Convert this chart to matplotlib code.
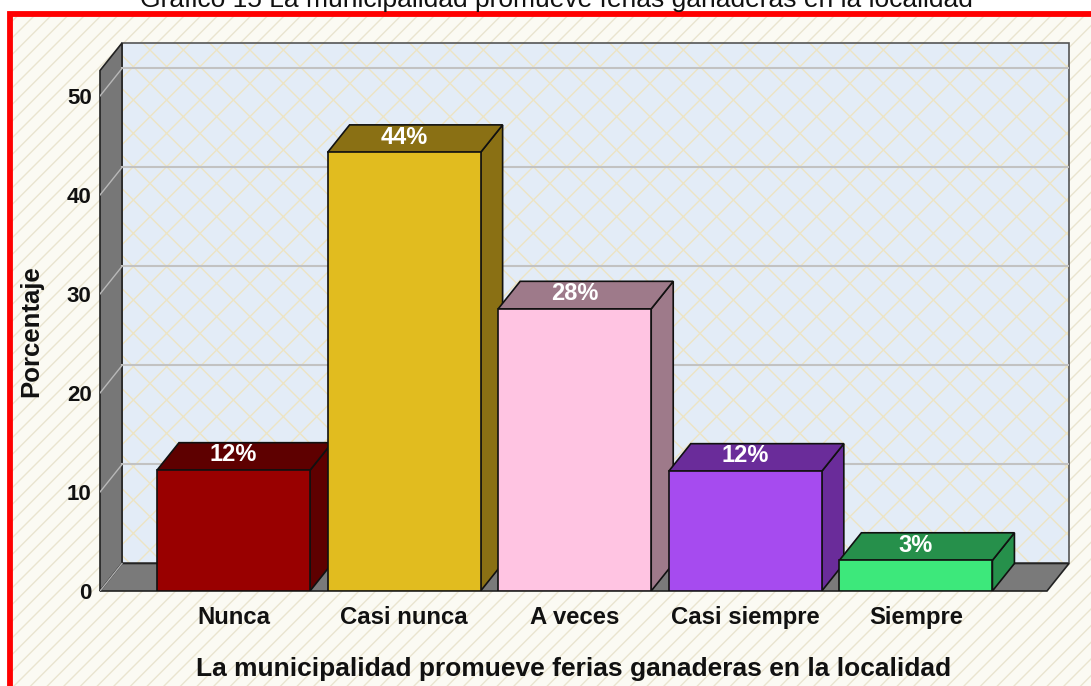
import numpy as np
import matplotlib
matplotlib.use("Agg")
import matplotlib.pyplot as plt
from matplotlib.patches import Rectangle, Polygon

plt.rcParams['font.family'] = ['Liberation Sans', 'DejaVu Sans']

# data
categorias = ["Nunca", "Casi nunca", "A veces", "Casi siempre", "Siempre"]
porcentajes = [12.2, 44.3, 28.5, 12.1, 3.1]
etiquetas = ["12%", "44%", "28%", "12%", "3%"]
yticks = [0, 10, 20, 30, 40, 50]
frente = ["#990000", "#E1BC1F", "#FFC4E2", "#A64BEF", "#3DE87B"]
oscuro = ["#5E0000", "#8A7014", "#9E7A8A", "#6A2C9A", "#26904B"]
titulo = "Gráfico 15 La municipalidad promueve ferias ganaderas en la localidad"

fig = plt.figure(figsize=(10.91, 6.86), dpi=100, facecolor="white")

# background with stripes and red frame
fondo = Rectangle((9.7/1091, -0.05), 2, 1.05 - 14/686, transform=fig.transFigure,
                  facecolor="#FBFAF3", edgecolor="#EAE4CF", hatch="//", lw=0, zorder=-2)
fig.add_artist(fondo)
marco = Rectangle((9.7/1091, -0.05), 2, 1.05 - 14/686, transform=fig.transFigure,
                  facecolor="none", edgecolor="#FF0000", lw=4.2, zorder=-1)
fig.add_artist(marco)
# title is cut by the top edge, as in the source image
fig.text(556/1091, 1 - 7/686, titulo, ha="center", va="baseline", fontsize=19, color="#111111")

ax = fig.add_axes([100/1091, 95/686, 969/1091, 548/686])
ax.patch.set_visible(False)
for s in ax.spines.values():
    s.set_visible(False)

x0, xmax = -0.7825, 4.8974
ymax = 55.35
dx, dy = 0.129, 2.78
w = 0.897
ax.set_xlim(x0, xmax)
ax.set_ylim(0, ymax)
x1 = xmax - dx

# back wall
pared = Rectangle((x0 + dx, dy), x1 - x0, ymax - dy, facecolor="#E3ECF7",
                  edgecolor="#EDE4C4", hatch="x", lw=0, zorder=1, clip_on=False)
ax.add_patch(pared)
ax.add_patch(Rectangle((x0 + dx, dy), x1 - x0, ymax - dy, facecolor="none",
                       edgecolor="#555555", lw=1.2, zorder=1.1, clip_on=False))
# left wall and floor
ax.add_patch(Polygon([(x0, 0), (x0 + dx, dy), (x0 + dx, ymax), (x0, ymax - dy)],
                     facecolor="#777777", edgecolor="#222222", lw=1.2, zorder=1.2, clip_on=False))
ax.add_patch(Polygon([(x0, 0), (x1, 0), (x1 + dx, dy), (x0 + dx, dy)],
                     facecolor="#7A7A7A", edgecolor="#222222", lw=1.2, zorder=1.2, clip_on=False))
ax.plot([x0, x0 + dx], [0, dy], color="#B0B0B0", lw=1, zorder=1.3)

# grid lines
for v in yticks[1:]:
    ax.plot([x0 + dx, x1 + dx], [v + dy, v + dy], color="#C2C2C2", lw=1.5, zorder=1.3)
    ax.plot([x0, x0 + dx], [v, v + dy], color="#B8B8B8", lw=1, zorder=1.3)

# 3d bars
for i, v in enumerate(porcentajes):
    izq = i - w / 2
    der = i + w / 2
    ax.add_patch(Polygon([(der, 0), (der + dx, dy), (der + dx, v + dy), (der, v)],
                         facecolor=oscuro[i], edgecolor="#111111", lw=1.2, zorder=2 + i))
    ax.add_patch(Polygon([(izq, v), (der, v), (der + dx, v + dy), (izq + dx, v + dy)],
                         facecolor=oscuro[i], edgecolor="#111111", lw=1.2, zorder=2 + i))
    ax.add_patch(Rectangle((izq, 0), w, v, facecolor=frente[i], edgecolor="#111111",
                           lw=1.2, zorder=2 + i))
    ax.text(i, v + dy / 2 + 0.15, etiquetas[i], ha="center", va="center", color="white",
            fontsize=17, fontweight="bold", zorder=10)

ax.set_xticks(range(len(categorias)))
ax.set_xticklabels(categorias, fontsize=17.2, fontweight="bold", color="#111111")
ax.set_yticks(yticks)
ax.set_yticklabels([str(t) for t in yticks], fontsize=16, fontweight="bold", color="#111111")
ax.tick_params(axis="x", length=0, pad=10.5)
ax.tick_params(axis="y", length=0, pad=6)

ax.set_xlabel("La municipalidad promueve ferias ganaderas en la localidad",
              fontsize=19, fontweight="bold", color="#111111")
ax.xaxis.set_label_coords(0.489, -0.12)
ax.set_ylabel("Porcentaje", fontsize=18.5, fontweight="bold", color="#111111")
ax.yaxis.set_label_coords(-0.059, 0.4735)

fig.savefig("out.png", dpi=100)
